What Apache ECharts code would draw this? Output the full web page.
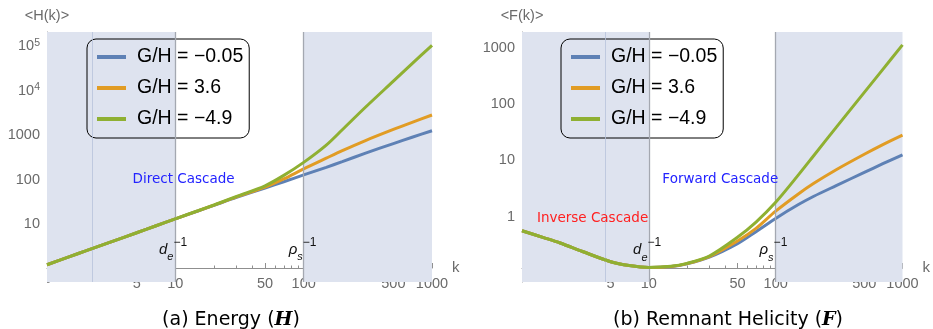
<!DOCTYPE html>
<html>
<head>
<meta charset="utf-8">
<script src="https://cdn.jsdelivr.net/npm/echarts@6/dist/echarts.min.js"></script>
<style>
html, body { margin: 0; padding: 0; background: #fff; }
#chart { width: 933px; height: 329px; }
</style>
</head>
<body>
<div id="chart"></div>
<script>
// wavenumbers where the curves were read
const kVals = [1, 1.5, 2, 3, 5, 7, 10, 15, 20, 30, 50, 70, 100, 150, 200, 300, 500, 700, 1000];

// <H(k)>, energy spectrum
const hBlue   = [1.22, 1.86, 2.5, 3.8, 6.4, 9.1, 13.2, 19.8, 26.5, 40, 65, 90, 128, 190, 255, 390, 650, 900, 1265];
const hOrange = [1.22, 1.86, 2.5, 3.8, 6.4, 9.1, 13.2, 19.9, 26.8, 41, 68, 104, 175, 305, 450, 750, 1350, 1950, 2850];
const hGreen  = [1.22, 1.86, 2.5, 3.8, 6.4, 9.1, 13.2, 20, 27, 42, 73, 125, 245, 600, 1330, 4150, 16500, 41000, 105000];

// <F(k)>, remnant helicity spectrum
const fBlue   = [0.56, 0.42, 0.34, 0.24, 0.158, 0.135, 0.125, 0.13, 0.145, 0.19, 0.33, 0.54, 0.93, 1.62, 2.3, 3.55, 6.1, 8.7, 12.5];
const fOrange = [0.56, 0.42, 0.34, 0.24, 0.158, 0.135, 0.125, 0.13, 0.146, 0.195, 0.37, 0.62, 1.25, 2.5, 3.9, 6.8, 12.8, 19, 28];
const fGreen  = [0.56, 0.42, 0.34, 0.24, 0.158, 0.135, 0.125, 0.131, 0.148, 0.2, 0.43, 0.8, 1.8, 5.4, 12.2, 38.5, 161, 412, 1120];

const names = ['G/H = \u22120.05', 'G/H = 3.6', 'G/H = \u22124.9'];
const colors = ['#5e81b5', '#e19c24', '#8fb032'];

// ticks
const kMajor = [1, 5, 10, 50, 100, 500, 1000];
const kLabels = [5, 10, 50, 100, 500, 1000];
const kMinor = [2, 3, 4, 6, 7, 8, 9, 20, 30, 40, 60, 70, 80, 90, 200, 300, 400, 600, 700, 800, 900];
const hMajor = [1, 10, 100, 1000, 10000, 100000];
const hLabels = [10, 100, 1000, 10000, 100000];
const fMajor = [0.1, 1, 10, 100, 1000];
const fLabels = [1, 10, 100, 1000];

function minors(decades, lo, hi) {
  const out = [];
  decades.forEach(d => {
    for (let i = 2; i <= 9; i++) {
      const v = +(d * i).toPrecision(3);
      if (v >= lo && v <= hi) out.push(v);
    }
  });
  return out;
}
const hMinor = minors([0.1, 1, 10, 100, 1000, 10000, 100000], 0.5, 2.1e5);
const fMinor = minors([0.01, 0.1, 1, 10, 100, 1000], 0.069, 1900);

// annotation spots (k, value)
const hNotes = { cascade: [11.6, 99], de: [9.6, 2.64], rho: [98, 2.64] };
const fNotes = { inverse: [3.6, 0.94], forward: [36.6, 4.5], de: [9.7, 0.256], rho: [96, 0.256] };

const axisGrey = '#8f8f8f';
const labelGrey = '#6a6a6a';
const shade = '#dee3ef';

function xAxes(grid) {
  const base = { type: 'log', gridIndex: grid, position: 'bottom', min: 1, max: 1000, offset: -14, splitLine: { show: false } };
  return [
    Object.assign({}, base, {
      name: 'k', nameLocation: 'end', nameGap: 20,
      nameTextStyle: { color: labelGrey, fontSize: 15, fontFamily: 'Liberation Sans', verticalAlign: 'middle' },
      axisLine: { show: true, lineStyle: { color: axisGrey, width: 1 } },
      axisTick: { show: true, inside: true, length: 5, customValues: kMajor, lineStyle: { color: axisGrey } },
      axisLabel: { customValues: kLabels, formatter: v => String(v), color: labelGrey, fontSize: 14.5,
        fontFamily: 'Liberation Sans', margin: 8 }
    }),
    Object.assign({}, base, {
      axisLine: { show: false },
      axisTick: { show: true, inside: true, length: 2.5, customValues: kMinor, lineStyle: { color: axisGrey } },
      axisLabel: { show: false }
    })
  ];
}

const supRich = { s: { fontSize: 10.5, fontFamily: 'Liberation Sans', color: labelGrey, verticalAlign: 'top', lineHeight: 10 } };
function powLabel(v) {
  if (v >= 10000) return '10{s|' + Math.round(Math.log10(v)) + '}';
  return String(v);
}

function yAxes(grid, min, max, major, labels, minor, title) {
  const base = { type: 'log', gridIndex: grid, position: 'left', offset: 0, min: min, max: max, splitLine: { show: false } };
  return [
    Object.assign({}, base, {
      name: title, nameLocation: 'end', nameGap: 9,
      nameTextStyle: { color: labelGrey, fontSize: 14.5, fontFamily: 'Liberation Sans', align: 'center' },
      axisLine: { show: true, lineStyle: { color: axisGrey, width: 1 } },
      axisTick: { show: true, inside: true, length: 5, customValues: major, lineStyle: { color: axisGrey } },
      axisLabel: { customValues: labels, formatter: powLabel, rich: supRich, color: labelGrey, fontSize: 14.5,
        fontFamily: 'Liberation Sans', margin: 7, lineHeight: 18 }
    }),
    Object.assign({}, base, {
      axisLine: { show: false },
      axisTick: { show: true, inside: true, length: 2.5, customValues: minor, lineStyle: { color: axisGrey } },
      axisLabel: { show: false }
    })
  ];
}

const scaleRich = {
  m: { fontSize: 15, fontStyle: 'italic', fontFamily: 'Liberation Sans', color: '#111', lineHeight: 26, verticalAlign: 'middle' },
  b: { fontSize: 11, fontStyle: 'italic', fontFamily: 'Liberation Sans', color: '#111', lineHeight: 20, verticalAlign: 'bottom' },
  t: { fontSize: 12, fontFamily: 'Liberation Sans', color: '#111', lineHeight: 10, verticalAlign: 'top' }
};
function note(coord, text, color, size) {
  return {
    coord: coord, symbol: 'circle', symbolSize: 0,
    label: { show: true, position: 'inside', formatter: text, color: color, fontSize: size || 13.5,
      fontFamily: 'DejaVu Sans', rich: scaleRich }
  };
}

function marks(thinK, notes) {
  return {
    markArea: {
      silent: true,
      itemStyle: { color: shade, opacity: 1 },
      data: [[{ xAxis: 1 }, { xAxis: 10 }], [{ xAxis: 100 }, { xAxis: 1000 }]]
    },
    markLine: {
      silent: true, symbol: 'none', label: { show: false },
      data: [
        { xAxis: thinK, lineStyle: { color: '#b8c3da', width: 0.8, type: 'solid' } },
        { xAxis: 10, lineStyle: { color: '#a4a8b1', width: 1.3, type: 'solid' } },
        { xAxis: 100, lineStyle: { color: '#a4a8b1', width: 1.3, type: 'solid' } }
      ]
    },
    markPoint: { silent: true, data: notes }
  };
}

function pairs(ys) { return kVals.map((k, i) => [k, ys[i]]); }

function curves(grid, sets, extra) {
  return sets.map((ys, i) => Object.assign({
    name: names[i], type: 'line', xAxisIndex: grid * 2, yAxisIndex: grid * 2,
    data: pairs(ys), smooth: 0.3, symbol: 'none', showSymbol: false,
    lineStyle: { color: colors[i], width: 3 }, itemStyle: { color: colors[i] },
    z: 3 + i, animation: false
  }, i === 0 ? extra : {}));
}

const leftNotes = [
  note(hNotes.cascade, 'Direct Cascade', '#2323ff'),
  note(hNotes.de, '{m|d}{b|e}{t|\u22121}', '#111'),
  note(hNotes.rho, '{m|\u03c1}{b|s}{t|\u22121}', '#111')
];
const rightNotes = [
  note(fNotes.inverse, 'Inverse Cascade', '#ff2020'),
  note(fNotes.forward, 'Forward Cascade', '#2323ff'),
  note(fNotes.de, '{m|d}{b|e}{t|\u22121}', '#111'),
  note(fNotes.rho, '{m|\u03c1}{b|s}{t|\u22121}', '#111')
];

function legendAt(left) {
  return {
    left: left, top: 39, orient: 'vertical', data: names,
    icon: 'rect', itemWidth: 29, itemHeight: 4, itemGap: 9,
    padding: [7, 6, 8, 10],
    borderColor: '#000', borderWidth: 1, borderRadius: 9, backgroundColor: 'transparent',
    selectedMode: false,
    textStyle: { fontSize: 19.5, lineHeight: 22, color: '#000', fontFamily: 'Liberation Sans', padding: [0, 0, 0, 6] }
  };
}

const captionRich = {
  a: { fontSize: 19, fontFamily: 'DejaVu Sans', color: '#3a3ab0' },
  w: { fontSize: 19, fontFamily: 'DejaVu Sans', color: '#111' },
  i: { fontSize: 19, fontFamily: 'DejaVu Serif', fontStyle: 'italic', fontWeight: 'bold', color: '#1c1c5a' }
};

const chart = echarts.init(document.getElementById('chart'), null, { renderer: 'canvas' });
chart.setOption({
  animation: false,
  backgroundColor: '#fff',
  grid: [
    { left: 47, right: 501, top: 32, bottom: 47 },
    { left: 522, right: 27, top: 32, bottom: 47 }
  ],
  xAxis: xAxes(0).concat(xAxes(1)),
  yAxis: yAxes(0, 0.5, 2.1e5, hMajor, hLabels, hMinor, '<H(k)>')
    .concat(yAxes(1, 0.069, 1900, fMajor, fLabels, fMinor, '<F(k)>')),
  legend: [legendAt(87), legendAt(561)],
  series: curves(0, [hBlue, hOrange, hGreen], marks(2.27, leftNotes))
    .concat(curves(1, [fBlue, fOrange, fGreen], marks(4.57, rightNotes))),
  graphic: [
    { type: 'text', x: 231, y: 320, style: { text: '{a|(a)}{w| Energy (}{i|H}{w|)}', rich: captionRich, align: 'center', verticalAlign: 'middle' } },
    { type: 'text', x: 728, y: 320, style: { text: '{a|(b)}{w| Remnant Helicity (}{i|F}{w|)}', rich: captionRich, align: 'center', verticalAlign: 'middle' } }
  ]
});
</script>
</body>
</html>
